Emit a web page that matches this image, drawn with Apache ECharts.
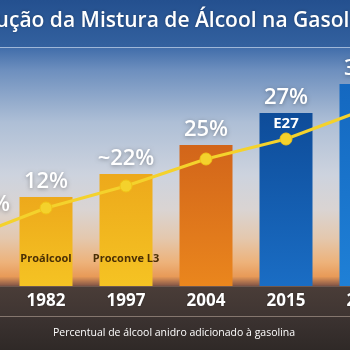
<!DOCTYPE html>
<html><head><meta charset="utf-8">
<script src="https://cdn.jsdelivr.net/npm/echarts@6/dist/echarts.min.js"></script>
<style>
html,body{margin:0;padding:0;width:350px;height:350px;overflow:hidden;background:#333;}
#wrap{position:relative;width:350px;height:350px;overflow:hidden;}
#c{position:absolute;left:-74px;top:0;width:480px;height:350px;}
</style>
</head><body><div id="wrap"><div id="c"></div></div>
<script>
// ---- data ----
const years = ['1977', '1982', '1997', '2004', '2015', '2025'];
const pctLabels = ['4,5%', '12%', '~22%', '25%', '27%', '30%'];
// bar heights as drawn (the infographic is not to scale), relative units 0-100
const barHeights = [26.4, 35.6, 44.8, 56.4, 69.2, 80.8];
// yellow trend line points, same relative units
const trendValues = [18.8, 31.2, 40, 50.8, 58.8, 70.8];
const innerLabels = ['', 'Proálcool', 'Proconve L3', '', 'E27', ''];
const titleText = 'Evolução da Mistura de Álcool na Gasolina';
const subtitleText = 'Percentual de álcool anidro adicionado à gasolina';

// ---- styles ----
const G = echarts.graphic.LinearGradient;
const barPalette = [
  ['#E9A61A', '#F4BF22'],
  ['#EDA91B', '#F5C323'],
  ['#EDA91B', '#F5C323'],
  ['#D2651A', '#EA861D'],
  ['#0E4C99', '#1A6DC4'],
  ['#1468C0', '#1F80D6']
];
const FONT = '"Open Sans", "Noto Sans", sans-serif';
const OX = 74; // canvas is wider than the window; window starts at x = OX
const W = 480;

const chart = echarts.init(document.getElementById('c'), null, {renderer: 'canvas'});

const barData = barHeights.map((v, i) => ({
  value: v,
  itemStyle: {color: new G(0, 0, 0, 1, [{offset: 0, color: barPalette[i][0]}, {offset: 1, color: barPalette[i][1]}])},
  label: i === 0 ? {offset: [19, 0]} : {}
}));

const innerData = barHeights.map((v, i) => {
  const txt = innerLabels[i];
  const isE = txt.startsWith('E');
  return {
    value: v,
    label: {
      show: txt !== '',
      formatter: txt,
      position: isE ? 'insideTop' : 'insideBottom',
      distance: isE ? 3 : 22,
      color: isE ? '#ffffff' : '#4A2F05',
      fontSize: isE ? 15 : 11,
      fontWeight: 700,
      fontFamily: FONT
    }
  };
});

const option = {
  animation: false,
  graphic: [
    {type: 'rect', z: -10, shape: {x: 0, y: 0, width: W, height: 350},
      style: {fill: new G(0, 0, 0, 1, [
        {offset: 0, color: '#2A5898'},
        {offset: 0.13, color: '#3D6AA8'},
        {offset: 0.2, color: '#6D8FBE'},
        {offset: 0.35, color: '#AEBFD6'},
        {offset: 0.5, color: '#CDD3DE'},
        {offset: 0.6, color: '#DAD4D2'},
        {offset: 0.68, color: '#E4C8AE'},
        {offset: 0.75, color: '#EDB27A'},
        {offset: 0.79, color: '#E89A58'},
        {offset: 0.815, color: '#8A5A48'},
        {offset: 0.82, color: '#4A3C38'},
        {offset: 1, color: '#3A302E'}
      ])}},
    {type: 'rect', z: -9, shape: {x: 0, y: 0, width: W, height: 47},
      style: {fill: new G(0, 0, 0, 1, [{offset: 0, color: '#24508F'}, {offset: 1, color: '#33619F'}])}},
    {type: 'rect', z: -8, shape: {x: 0, y: 47, width: W, height: 1},
      style: {fill: 'rgba(200,215,235,0.7)'}},
    {type: 'rect', z: -8, shape: {x: 0, y: 286, width: W, height: 30},
      style: {fill: new G(0, 0, 0, 1, [{offset: 0, color: '#4A3D38'}, {offset: 1, color: '#3F3532'}])}},
    {type: 'rect', z: -7, shape: {x: 0, y: 316, width: W, height: 1},
      style: {fill: 'rgba(150,135,125,0.8)'}},
    {type: 'rect', z: -8, shape: {x: 0, y: 317, width: W, height: 33},
      style: {fill: new G(0, 0, 0, 1, [{offset: 0, color: '#3C3331'}, {offset: 1, color: '#2F2927'}])}},
    {type: 'text', z: 10, x: OX - 46, y: 21,
      style: {text: titleText, fill: '#ffffff', font: '600 21px ' + FONT, textVerticalAlign: 'middle', textAlign: 'left',
        textShadowColor: 'rgba(0,0,0,0.3)', textShadowBlur: 3}},
    {type: 'text', z: 10, x: OX + 174, y: 333,
      style: {text: subtitleText, fill: '#ffffff', font: '10.5px ' + FONT, textVerticalAlign: 'middle', textAlign: 'center'}}
  ],
  grid: {left: 0, right: 0, top: 36, bottom: 64, containLabel: false},
  xAxis: {
    type: 'category', data: years,
    axisLine: {show: true, lineStyle: {color: 'rgba(120,95,85,0.8)', width: 1}},
    axisTick: {show: false},
    axisLabel: {color: '#ffffff', fontSize: 17, fontWeight: 700, fontFamily: FONT, margin: 7,
      textShadowColor: 'rgba(0,0,0,0.4)', textShadowBlur: 2}
  },
  yAxis: {type: 'value', min: 0, max: 100, show: false, splitLine: {show: false}},
  series: [
    {
      type: 'bar', data: barData, barWidth: 53, z: 2,
      label: {
        show: true, position: 'top', distance: 4,
        formatter: p => pctLabels[p.dataIndex],
        color: '#ffffff', fontSize: 22, fontWeight: 600, fontFamily: FONT,
        textShadowColor: 'rgba(0,0,0,0.35)', textShadowBlur: 4, textShadowOffsetY: 1
      }
    },
    {
      type: 'bar', data: innerData, barWidth: 53, barGap: '-100%', z: 3,
      itemStyle: {color: 'rgba(0,0,0,0)'}
    },
    {
      type: 'line', data: trendValues, z: 5,
      symbol: 'circle', symbolSize: 12,
      lineStyle: {color: '#F4D22C', width: 3},
      itemStyle: {color: '#F4D22C', borderColor: '#F0C418', borderWidth: 1}
    }
  ]
};
chart.setOption(option);
</script>
</body></html>
